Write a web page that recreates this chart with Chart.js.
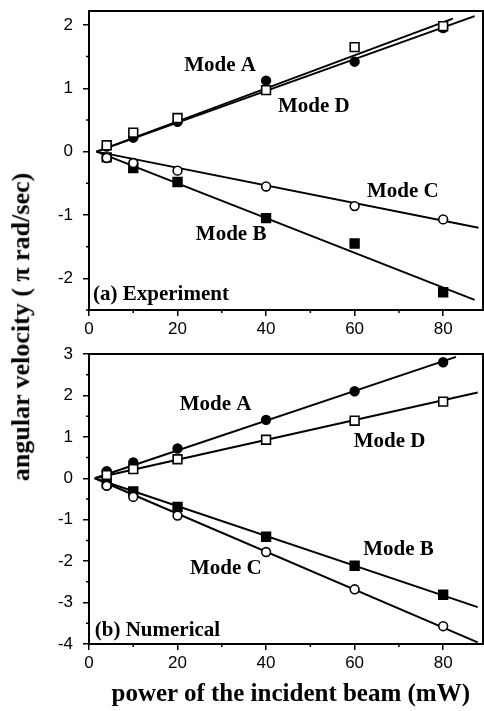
<!DOCTYPE html>
<html>
<head>
<meta charset="utf-8">
<script src="https://cdn.jsdelivr.net/npm/chart.js@4/dist/chart.umd.min.js"></script>
<style>
  body { margin: 0; background: #fff; }
  #wrap { position: relative; width: 484px; height: 711px; overflow: hidden; }
  canvas { position: absolute; left: 0; }
  .title { position: absolute; font-family: "Liberation Serif", "Times New Roman", serif; font-weight: bold; color: #000; white-space: nowrap; }
</style>
</head>
<body>
<div id="wrap">
  <canvas id="chartA" width="484" height="345" style="top:0px"></canvas>
  <canvas id="chartB" width="484" height="340" style="top:340px"></canvas>
  <div class="title" id="ytitle" style="font-size:26px">angular velocity ( π rad/sec)</div>
  <div class="title" id="xtitle" style="font-size:25px">power of the incident beam (mW)</div>
</div>
<script>
// measured power values (mW)
const power = [4, 10, 20, 40, 60, 80];

// (a) experiment
const expModeA = [0.08, 0.22, 0.47, 1.12, 1.42, 1.95];
const expModeD = [0.10, 0.30, 0.53, 0.97, 1.65, 1.98];
const expModeB = [-0.09, -0.26, -0.48, -1.05, -1.45, -2.22];
const expModeC = [-0.10, -0.18, -0.30, -0.55, -0.86, -1.07];

// (a) fitted lines, [start, end]
const expFitAX = [1.7, 87.1], expFitAY = [0, 2.14];
const expFitDX = [1.7, 82.2], expFitDY = [0, 2.10];
const expFitBX = [1.7, 87.1], expFitBY = [0, -2.34];
const expFitCX = [1.7, 88.0], expFitCY = [0, -1.20];

// (b) numerical
const numModeA = [0.17, 0.38, 0.72, 1.41, 2.10, 2.80];
const numModeD = [0.08, 0.22, 0.46, 0.93, 1.39, 1.85];
const numModeB = [-0.12, -0.32, -0.69, -1.41, -2.11, -2.81];
const numModeC = [-0.18, -0.45, -0.90, -1.78, -2.68, -3.57];

const numFitAX = [1.3, 82.9], numFitAY = [0, 2.93];
const numFitDX = [1.3, 87.8], numFitDY = [0, 2.07];
const numFitBX = [1.3, 87.8], numFitBY = [0, -3.11];
const numFitCX = [1.3, 87.8], numFitCY = [0, -3.96];

// axis ranges and ticks
const xRange = [0, 89];
const expYRange = [-2.5, 2.22];
const numYRange = [-4, 3];
const xTicks = [0, 20, 40, 60, 80];
const xMinor = [10, 30, 50, 70];
const expYTicks = [-2, -1, 0, 1, 2];
const expYMinor = [-2.5, -1.5, -0.5, 0.5, 1.5];
const numYTicks = [-4, -3, -2, -1, 0, 1, 2, 3];
const numYMinor = [-3.5, -2.5, -1.5, -0.5, 0.5, 1.5, 2.5];

// text on the plots (data coords)
const expNotes = [
  { text: 'Mode A', x: 29.6, y: 1.36 },
  { text: 'Mode D', x: 50.8, y: 0.71 },
  { text: 'Mode C', x: 70.9, y: -0.63 },
  { text: 'Mode B', x: 32.1, y: -1.31 },
  { text: '(a) Experiment', x: 0.9, y: -2.26, left: true }
];
const numNotes = [
  { text: 'Mode A', x: 28.6, y: 1.79 },
  { text: 'Mode D', x: 67.9, y: 0.89 },
  { text: 'Mode B', x: 69.9, y: -1.72 },
  { text: 'Mode C', x: 30.9, y: -2.18 },
  { text: '(b) Numerical', x: 1.3, y: -3.67, left: true }
];

function pts(xs, ys) {
  return xs.map(function (x, i) { return { x: x, y: ys[i] }; });
}

function markers(ys, style, filled) {
  return {
    data: pts(power, ys),
    showLine: false,
    pointStyle: style,
    pointRadius: style === 'rect' ? 6.2 : 4.4,
    pointHoverRadius: style === 'rect' ? 6.2 : 4.4,
    pointBorderWidth: 1.6,
    pointBorderColor: '#000',
    pointBackgroundColor: filled ? '#000' : '#fff',
    order: filled ? 2 : 1
  };
}

function fitLine(xs, ys) {
  return {
    data: pts(xs, ys),
    showLine: true,
    borderColor: '#000',
    borderWidth: 2,
    pointRadius: 0,
    order: 3
  };
}

// frame, short minor ticks and the mode labels
const frameAndNotes = {
  id: 'frameAndNotes',
  afterDatasetsDraw: function (chart) {
    const ctx = chart.ctx;
    const a = chart.chartArea;
    const opts = chart.options.plugins.frameAndNotes;
    ctx.save();
    ctx.strokeStyle = '#000';
    ctx.lineWidth = 1.5;
    ctx.beginPath();
    opts.xMinor.forEach(function (v) {
      const px = chart.scales.x.getPixelForValue(v);
      ctx.moveTo(px, a.bottom);
      ctx.lineTo(px, a.bottom + 3);
    });
    opts.yMinor.forEach(function (v) {
      const py = chart.scales.y.getPixelForValue(v);
      ctx.moveTo(a.left, py);
      ctx.lineTo(a.left - 3, py);
    });
    ctx.stroke();
    ctx.lineWidth = 2;
    ctx.strokeRect(a.left, a.top, a.right - a.left, a.bottom - a.top);
    ctx.fillStyle = '#000';
    ctx.font = 'bold 21px "Liberation Serif", "Times New Roman", serif';
    ctx.textBaseline = 'middle';
    opts.notes.forEach(function (n) {
      const px = chart.scales.x.getPixelForValue(n.x);
      const py = chart.scales.y.getPixelForValue(n.y);
      ctx.textAlign = n.left ? 'left' : 'center';
      ctx.fillText(n.text, px, py);
    });
    ctx.restore();
  }
};

function useTicks(list) {
  return function (scale) {
    scale.ticks = list.map(function (v) { return { value: v }; });
  };
}

function makeChart(id, datasets, yRange, yTicks, yMinor, padTop, xHeight, notes) {
  return new Chart(document.getElementById(id), {
    type: 'scatter',
    data: { datasets: datasets },
    plugins: [frameAndNotes],
    options: {
      responsive: false,
      animation: false,
      layout: { autoPadding: false, padding: { top: padTop, right: 1, left: 0, bottom: 0 } },
      plugins: {
        legend: { display: false },
        tooltip: { enabled: false },
        frameAndNotes: { notes: notes, xMinor: xMinor, yMinor: yMinor }
      },
      scales: {
        x: {
          type: 'linear',
          min: xRange[0],
          max: xRange[1],
          afterBuildTicks: useTicks(xTicks),
          border: { display: false },
          grid: { drawOnChartArea: false, drawTicks: true, tickLength: 6, color: '#000', lineWidth: 1.5 },
          ticks: {
            maxRotation: 0,
            autoSkip: false,
            padding: 3,
            color: '#000',
            font: { family: '"Liberation Sans", Arial, sans-serif', size: 17 },
            callback: function (v) { return String(v); }
          },
          afterFit: function (s) {
            s.height = xHeight;
            s.paddingLeft = 0;
            s.paddingRight = 0;
          }
        },
        y: {
          type: 'linear',
          min: yRange[0],
          max: yRange[1],
          afterBuildTicks: useTicks(yTicks),
          border: { display: false },
          grid: { drawOnChartArea: false, drawTicks: true, tickLength: 6, color: '#000', lineWidth: 1.5 },
          ticks: {
            autoSkip: false,
            padding: 10,
            color: '#000',
            font: { family: '"Liberation Sans", Arial, sans-serif', size: 17 },
            callback: function (v) { return String(v); }
          },
          afterFit: function (s) {
            s.width = 89;
            s.paddingTop = 0;
            s.paddingBottom = 0;
          }
        }
      }
    }
  });
}

window.addEventListener('load', function () {
  makeChart('chartA', [
    markers(expModeD, 'rect', false),
    markers(expModeC, 'circle', false),
    markers(expModeA, 'circle', true),
    markers(expModeB, 'rect', true),
    fitLine(expFitAX, expFitAY),
    fitLine(expFitDX, expFitDY),
    fitLine(expFitBX, expFitBY),
    fitLine(expFitCX, expFitCY)
  ], expYRange, expYTicks, expYMinor, 11, 35, expNotes);

  makeChart('chartB', [
    markers(numModeD, 'rect', false),
    markers(numModeC, 'circle', false),
    markers(numModeA, 'circle', true),
    markers(numModeB, 'rect', true),
    fitLine(numFitAX, numFitAY),
    fitLine(numFitDX, numFitDY),
    fitLine(numFitBX, numFitBY),
    fitLine(numFitCX, numFitCY)
  ], numYRange, numYTicks, numYMinor, 14, 36, numNotes);

  // axis titles
  const xt = document.getElementById('xtitle');
  xt.style.left = (291 - xt.offsetWidth / 2) + 'px';
  xt.style.top = (693 - xt.offsetHeight / 2) + 'px';
  const yt = document.getElementById('ytitle');
  yt.style.left = (21 - yt.offsetWidth / 2) + 'px';
  yt.style.top = (327 - yt.offsetHeight / 2) + 'px';
  yt.style.transform = 'rotate(-90deg)';
});
</script>
</body>
</html>
